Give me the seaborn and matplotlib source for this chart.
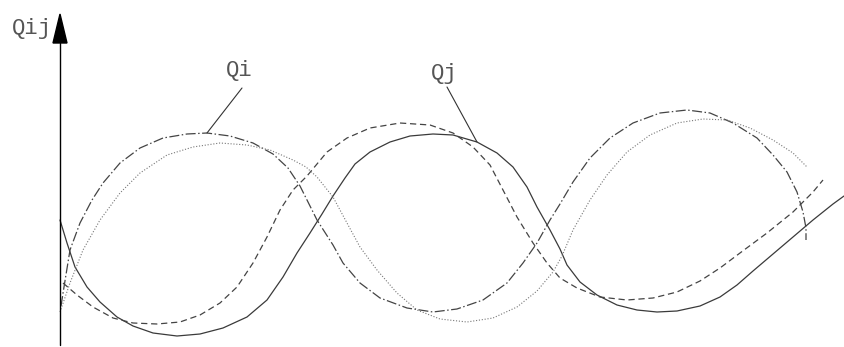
import numpy as np
import pandas as pd
import matplotlib
matplotlib.use("Agg")
import matplotlib.pyplot as plt
import seaborn as sns

# curve points (image pixel coordinates, y grows downward)
qj_x = [60, 67, 75, 87, 100, 117, 133, 153, 177, 200, 223, 247, 267, 283, 297, 310, 322, 333,
        345, 355, 370, 390, 410, 433, 453, 477, 497, 513, 527, 537, 550, 560, 567, 580, 597,
        617, 637, 657, 677, 700, 720, 737, 753, 773, 793, 813, 833, 844]
qj_y = [220, 243, 267, 287, 302, 317, 326, 333, 336, 334, 328, 317, 300, 277, 253, 233, 214, 196,
        178, 164, 152, 142, 136, 134, 135, 142, 153, 167, 187, 207, 230, 249, 265, 282, 295,
        305, 310, 312, 311, 306, 297, 285, 271, 254, 237, 220, 204, 196]

qj2_x = [63, 77, 93, 113, 133, 157, 180, 200, 220, 237, 253, 267, 280, 293, 307, 327, 347, 370,
         400, 430, 453, 473, 490, 503, 517, 533, 547, 560, 577, 600, 627, 653, 677, 700, 720,
         740, 767, 793, 813, 823]
qj2_y = [283, 295, 307, 318, 323, 324, 322, 315, 303, 287, 263, 237, 210, 190, 176, 152, 138, 128,
         123, 125, 133, 147, 165, 190, 217, 243, 263, 278, 288, 297, 300, 298, 292, 281, 268,
         253, 233, 212, 192, 180]

qi_x = [61, 64, 70, 80, 92, 103, 120, 140, 163, 187, 207, 230, 253, 273, 288, 300, 310, 317,
        333, 343, 360, 380, 407, 433, 457, 483, 507, 523, 537, 550, 560, 573, 590, 610, 633,
        660, 687, 710, 733, 757, 773, 787, 797, 803, 806, 806]
qi_y = [306, 287, 250, 223, 200, 183, 163, 148, 138, 134, 133, 136, 143, 154, 168, 186, 206, 220,
        245, 263, 283, 298, 308, 312, 309, 300, 283, 263, 243, 220, 204, 182, 158, 138, 123,
        113, 110, 113, 123, 138, 155, 172, 192, 212, 228, 240]

qi2_x = [60, 70, 83, 100, 120, 140, 167, 193, 220, 247, 270, 293, 306, 317, 333, 347, 360, 377,
         397, 417, 440, 467, 493, 517, 537, 553, 562, 573, 590, 607, 627, 650, 677, 703, 727,
         750, 773, 793, 807]
qi2_y = [312, 283, 250, 220, 193, 173, 155, 147, 143, 145, 150, 160, 167, 177, 197, 223, 247, 270,
         293, 310, 319, 322, 318, 307, 291, 272, 256, 230, 200, 175, 152, 135, 123, 119, 120,
         128, 140, 153, 167]

labels = ["Qij", "Qi", "Qj"]

sns.set_style("white")
plt.rcParams["font.family"] = ["Liberation Mono", "DejaVu Sans Mono"]

fig = plt.figure(figsize=(8.44, 3.47), dpi=100)
ax = fig.add_axes([0, 0, 1, 1])

sns.lineplot(x=qj_x, y=qj_y, sort=False, estimator=None, color="#3a3a3a",
             linewidth=0.9, ax=ax)
sns.lineplot(x=qj2_x, y=qj2_y, sort=False, estimator=None, color="#444444",
             linewidth=0.9, linestyle=(0, (5, 3)), ax=ax)
sns.lineplot(x=qi_x, y=qi_y, sort=False, estimator=None, color="#444444",
             linewidth=0.9, linestyle=(0, (8, 2, 1.2, 2)), ax=ax)
sns.lineplot(x=qi2_x, y=qi2_y, sort=False, estimator=None, color="#777777",
             linewidth=0.8, linestyle=(0, (1, 1.6)), ax=ax)

# vertical axis with arrow head
ax.plot([60, 60], [43, 345], color="black", linewidth=1.0)
ax.fill([53, 60, 67], [43, 14, 43], color="black")

# leader lines for labels
ax.plot([242, 207], [88, 133], color="#333333", linewidth=0.8)
ax.plot([447, 477], [87, 142], color="#333333", linewidth=0.8)

txt = dict(fontsize=16, color="#555555", ha="left", va="baseline")
ax.text(12, 34, labels[0], **txt)
ax.text(226, 76, labels[1], **txt)
ax.text(431, 79, labels[2], **txt)

ax.set_xlim(0, 844)
ax.set_ylim(347, 0)
ax.axis("off")

fig.savefig("out.png", dpi=100)
